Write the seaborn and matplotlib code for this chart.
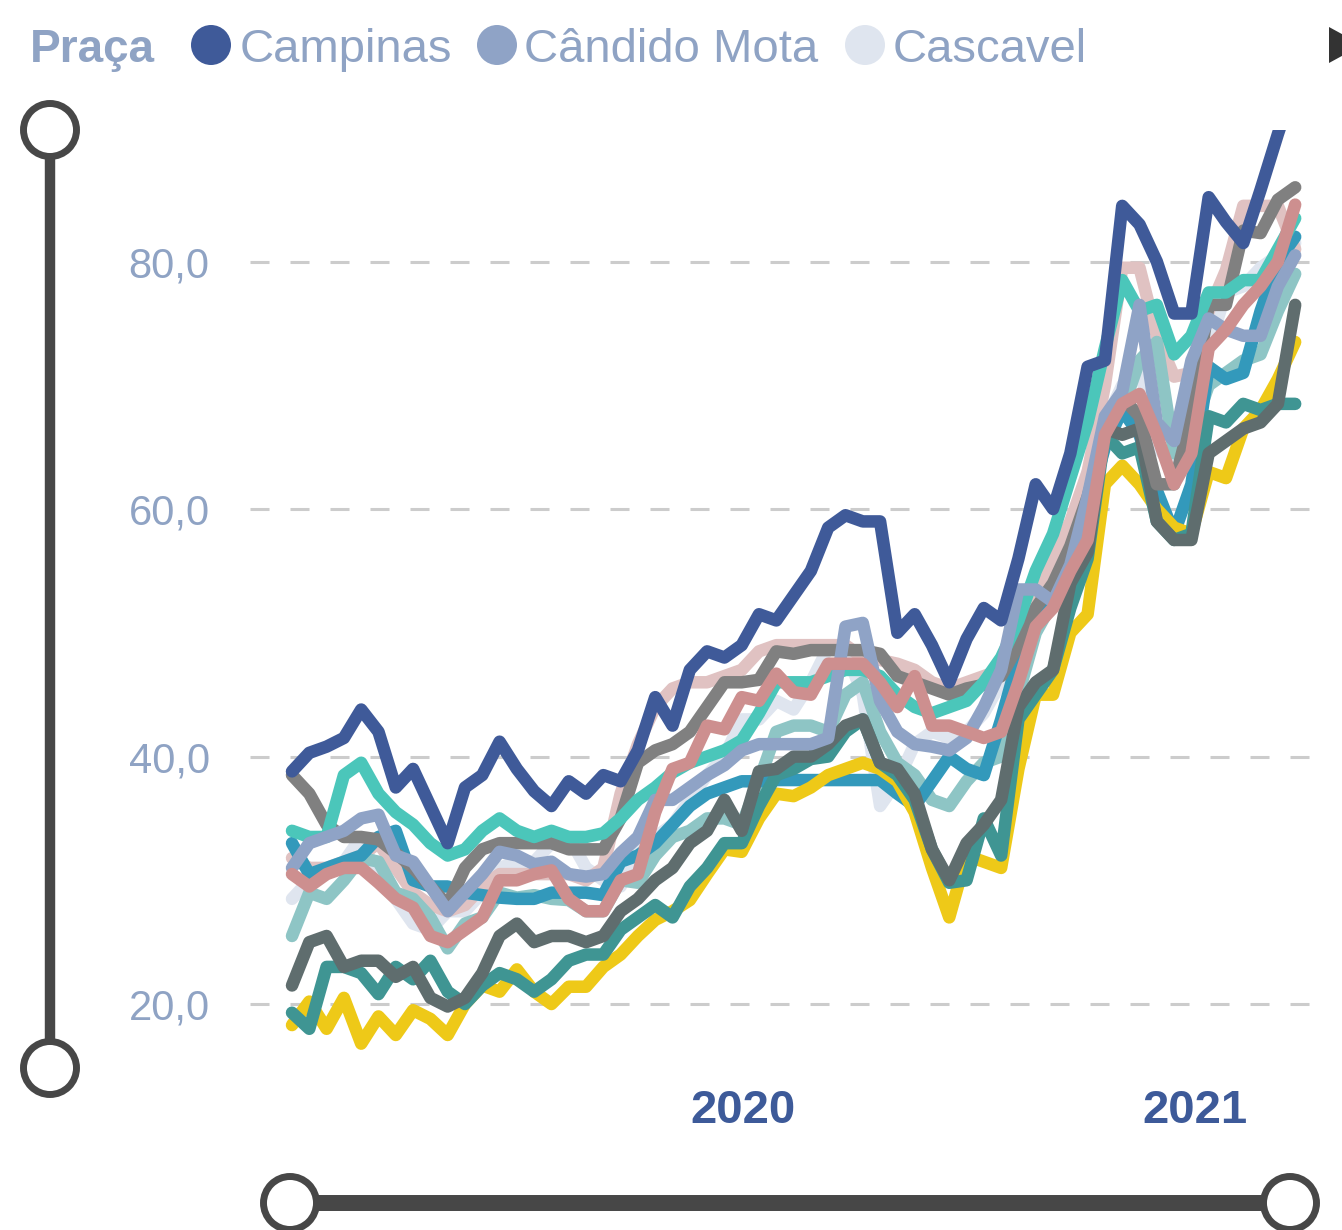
import matplotlib
matplotlib.use("Agg")
import matplotlib.pyplot as plt
import matplotlib.dates as mdates
from matplotlib.patches import Circle, Polygon
from matplotlib.ticker import FuncFormatter
import pandas as pd
import seaborn as sns

# datas quinzenais (jan/2019 a mar/2021)
datas = pd.date_range("2019-01-01", periods=59, freq="14D")

campinas = [38.8, 40.3, 40.8, 41.5, 43.8, 42.0, 37.5, 39.0, 36.0, 33.0,
            37.5, 38.5, 41.2, 39.0, 37.2, 36.0, 38.0, 37.0, 38.5, 38.0,
            40.5, 44.8, 42.5, 47.0, 48.5, 48.0, 49.0, 51.5, 51.0, 53.0,
            55.0, 58.5, 59.5, 59.0, 59.0, 50.0, 51.5, 49.0, 46.0, 49.5,
            52.0, 51.0, 56.0, 62.0, 60.0, 64.5, 71.5, 72.0, 84.5, 83.0,
            80.0, 75.8, 75.8, 85.2, 83.2, 81.5, 85.8, 90.3, 94.5]
candido_mota = [31.0, 33.0, 33.5, 34.0, 35.0, 35.3, 32.0, 31.5, 29.5, 27.5,
                29.0, 30.5, 32.3, 32.0, 31.3, 31.5, 30.5, 30.3, 30.5, 32.2,
                33.5, 36.5, 36.5, 37.5, 38.5, 39.3, 40.5, 41.0, 41.0, 41.0,
                41.0, 41.5, 50.5, 50.8, 44.5, 42.0, 41.0, 40.8, 40.5, 41.5,
                44.0, 47.0, 53.5, 53.5, 52.5, 55.5, 61.0, 67.5, 69.5, 76.5,
                67.0, 65.5, 72.0, 75.4, 74.5, 74.0, 74.0, 78.0, 80.5]
cascavel = [28.5, 30.0, 30.5, 31.5, 33.5, 30.0, 28.5, 26.5, 26.0, 27.5,
            27.5, 29.0, 31.0, 31.5, 31.5, 33.0, 33.5, 31.0, 30.0, 29.5,
            32.5, 33.5, 34.5, 36.5, 38.5, 40.0, 43.0, 43.0, 44.5, 43.8,
            46.0, 48.8, 48.5, 45.0, 36.0, 38.0, 41.0, 42.0, 41.5, 42.0,
            43.5, 46.0, 50.0, 53.0, 55.5, 58.0, 63.0, 67.0, 70.0, 71.5,
            65.0, 63.5, 67.0, 73.0, 77.5, 78.0, 79.5, 80.5, 81.5]
serie_cinza = [38.5, 37.0, 34.5, 33.5, 33.5, 33.3, 32.2, 31.0, 29.5, 28.0,
               31.0, 32.5, 33.0, 33.0, 33.0, 33.0, 32.5, 32.5, 32.5, 35.0,
               39.5, 40.5, 41.0, 42.0, 44.0, 46.0, 46.0, 46.2, 48.5, 48.3,
               48.6, 48.6, 48.6, 48.6, 48.3, 46.5, 46.0, 45.5, 45.0, 45.5,
               45.8, 46.5, 49.0, 52.0, 54.0, 57.0, 61.0, 66.0, 69.0, 67.5,
               62.0, 62.0, 67.5, 76.5, 76.5, 82.5, 82.3, 85.0, 86.0]
serie_turquesa = [34.0, 33.5, 33.5, 38.5, 39.5, 37.0, 35.5, 34.5, 33.0, 32.0,
                  32.5, 34.0, 35.0, 34.0, 33.5, 34.0, 33.5, 33.5, 33.8, 35.0,
                  36.5, 37.5, 38.7, 39.5, 40.0, 40.5, 41.3, 43.5, 46.0, 46.0,
                  46.0, 46.5, 47.0, 47.0, 46.5, 45.0, 44.0, 43.5, 44.0, 44.5,
                  46.0, 48.0, 51.0, 55.0, 58.0, 62.5, 67.0, 73.0, 78.5, 76.0,
                  76.5, 72.5, 74.0, 77.5, 77.5, 78.5, 78.5, 81.0, 83.5]
serie_rosa_claro = [31.8, 31.0, 31.0, 31.5, 32.0, 33.0, 31.0, 29.0, 28.0, 27.5,
                    28.0, 29.5, 30.5, 30.5, 30.5, 30.5, 30.5, 30.0, 31.0, 37.0,
                    41.0, 44.0, 45.5, 46.0, 46.0, 46.5, 47.0, 48.5, 49.0, 49.0,
                    49.0, 49.0, 49.0, 48.0, 47.8, 47.5, 47.0, 46.0, 45.5, 46.0,
                    46.5, 47.0, 49.0, 53.0, 56.0, 59.0, 63.0, 70.0, 79.5, 79.5,
                    74.0, 70.7, 71.0, 76.0, 79.3, 84.5, 84.5, 84.5, 81.0]
serie_azul = [33.0, 30.5, 31.0, 31.5, 32.0, 33.5, 34.0, 30.0, 29.5, 29.5,
              29.0, 28.8, 28.6, 28.5, 28.5, 29.0, 29.0, 29.0, 28.8, 31.5,
              32.0, 33.0, 34.5, 36.0, 37.0, 37.5, 38.0, 38.0, 38.1, 38.1,
              38.1, 38.1, 38.1, 38.1, 38.1, 37.0, 36.0, 38.0, 40.0, 39.0,
              38.5, 43.0, 48.0, 51.0, 53.5, 56.0, 60.0, 65.0, 68.0, 66.0,
              61.5, 58.0, 62.0, 71.5, 70.5, 71.0, 76.0, 80.0, 82.0]
serie_turquesa_clara = [25.5, 29.0, 28.5, 30.0, 31.8, 31.5, 29.0, 28.5, 27.0, 24.5,
                        26.5, 27.0, 29.0, 28.6, 28.8, 28.5, 28.4, 27.5, 27.5, 30.0,
                        29.8, 32.0, 33.5, 34.0, 35.0, 35.0, 34.5, 38.0, 42.0, 42.5,
                        42.5, 42.0, 45.0, 46.0, 42.0, 39.5, 38.5, 36.5, 36.0, 38.0,
                        39.5, 40.0, 45.0, 50.0, 52.5, 55.0, 60.0, 66.0, 68.0, 72.0,
                        73.5, 64.5, 66.0, 70.0, 71.0, 72.0, 72.5, 76.0, 79.0]
serie_salmao = [30.5, 29.5, 30.5, 31.0, 31.0, 29.8, 28.5, 27.8, 25.5, 25.0,
                26.0, 27.0, 30.0, 30.0, 30.5, 30.8, 28.5, 27.5, 27.5, 30.0,
                30.5, 35.5, 39.0, 39.5, 42.5, 42.2, 44.8, 44.5, 46.7, 45.2,
                45.0, 47.5, 47.5, 47.5, 46.0, 44.0, 46.5, 42.5, 42.5, 42.0,
                41.5, 42.0, 46.0, 50.5, 52.0, 55.0, 57.5, 66.0, 68.5, 69.3,
                66.0, 62.0, 64.5, 73.0, 74.5, 76.5, 78.0, 80.0, 84.6]
serie_petroleo = [19.3, 18.0, 23.0, 23.0, 22.5, 20.8, 23.0, 22.0, 23.5, 21.0,
                  20.0, 21.5, 22.5, 22.0, 21.0, 22.0, 23.5, 24.0, 24.0, 26.0,
                  27.0, 28.0, 27.0, 29.5, 31.0, 33.0, 33.0, 36.0, 38.5, 39.0,
                  39.8, 40.0, 42.0, 43.0, 39.5, 38.5, 36.5, 32.5, 29.8, 30.0,
                  35.0, 32.0, 43.0, 45.0, 47.0, 52.0, 56.0, 66.0, 64.5, 65.0,
                  59.0, 57.5, 58.0, 67.5, 67.0, 68.5, 68.0, 68.5, 68.5]
serie_cinza_escuro = [21.5, 25.0, 25.5, 23.0, 23.5, 23.5, 22.2, 23.0, 20.5, 19.8,
                      20.5, 22.5, 25.5, 26.5, 25.0, 25.5, 25.5, 25.0, 25.5, 27.5,
                      28.5, 30.0, 31.0, 33.0, 34.0, 36.5, 34.0, 38.8, 39.0, 40.0,
                      40.0, 41.0, 42.5, 43.0, 39.5, 39.0, 37.0, 32.5, 30.0, 33.0,
                      34.5, 36.5, 44.0, 46.0, 47.0, 54.0, 56.5, 66.5, 66.0, 66.5,
                      59.0, 57.5, 57.5, 64.5, 65.5, 66.5, 67.0, 68.5, 76.5]
serie_amarela = [18.3, 20.2, 18.0, 20.5, 16.8, 19.0, 17.5, 19.5, 18.8, 17.5,
                 20.0, 21.5, 21.0, 22.8, 21.0, 20.0, 21.4, 21.4, 23.0, 24.0,
                 25.5, 26.8, 27.5, 28.4, 30.5, 32.5, 32.3, 35.0, 37.0, 36.8,
                 37.5, 38.5, 39.0, 39.5, 39.0, 38.0, 35.5, 31.0, 27.0, 32.0,
                 31.5, 31.0, 39.0, 45.0, 45.0, 50.0, 51.5, 62.0, 63.5, 62.0,
                 60.0, 58.5, 58.0, 63.0, 62.5, 66.5, 68.0, 70.5, 73.5]

series = {
    "Campinas": campinas, "Cândido Mota": candido_mota, "Cascavel": cascavel,
    "Praça 4": serie_cinza, "Praça 5": serie_turquesa, "Praça 6": serie_rosa_claro,
    "Praça 7": serie_azul, "Praça 8": serie_turquesa_clara, "Praça 9": serie_salmao,
    "Praça 10": serie_petroleo, "Praça 11": serie_cinza_escuro, "Praça 12": serie_amarela,
}
cores = {
    "Campinas": "#3f5a99", "Cândido Mota": "#8fa3c6", "Cascavel": "#dfe5ef",
    "Praça 4": "#808080", "Praça 5": "#4bc6ba", "Praça 6": "#e0c2c2",
    "Praça 7": "#3399bb", "Praça 8": "#8ec5c5", "Praça 9": "#cd8f8f",
    "Praça 10": "#3f9593", "Praça 11": "#5f6d6e", "Praça 12": "#eec918",
}
# ordem de desenho (de baixo para cima)
ordem = ["Cascavel", "Praça 6", "Praça 8", "Praça 7", "Praça 12", "Praça 10",
         "Praça 11", "Praça 4", "Praça 5", "Cândido Mota", "Praça 9", "Campinas"]

df = pd.concat([pd.DataFrame({"Data": datas, "Preço": v, "Praça": k})
                for k, v in series.items()], ignore_index=True)

sns.set_theme(style="white")
plt.rcParams["font.family"] = ["Liberation Sans", "DejaVu Sans"]
plt.rcParams["lines.scale_dashes"] = False

W, H = 1342, 1230
fig = plt.figure(figsize=(W / 100, H / 100), dpi=100)
ax = fig.add_axes([250 / W, 1 - 1070 / H, 1060 / W, 940 / H])

sns.lineplot(data=df, x="Data", y="Preço", hue="Praça", hue_order=ordem,
             palette=cores, legend=False, errorbar=None, ax=ax)
for ln in ax.lines:
    ln.set_linewidth(9.0)
    ln.set_solid_joinstyle("round")
    ln.set_solid_capstyle("round")

ax.set_xlim(pd.Timestamp("2018-11-28"), pd.Timestamp("2021-04-04"))
ax.set_ylim(14.67, 90.63)
for s in ax.spines.values():
    s.set_visible(False)
ax.set_xlabel("")
ax.set_ylabel("")

ax.set_yticks([20, 40, 60, 80])
ax.yaxis.set_major_formatter(FuncFormatter(lambda v, p: f"{v:.1f}".replace(".", ",")))
ax.tick_params(axis="y", length=0, pad=29, labelsize=30, labelcolor="#8fa3c4")
ax.yaxis.grid(True, color="#cccccc", linewidth=2.2, linestyle=(0, (13.7, 15.1)))
ax.xaxis.grid(False)
ax.set_axisbelow(True)

ax.set_xticks([mdates.date2num(pd.Timestamp("2020-01-01")),
               mdates.date2num(pd.Timestamp("2021-01-01"))])
ax.set_xticklabels(["2020", "2021"], fontweight="bold")
ax.tick_params(axis="x", length=0, pad=14, labelsize=34, labelcolor="#3d5a99")

# camada de interface: legenda e controles deslizantes
ov = fig.add_axes([0, 0, 1, 1])
ov.set_xlim(0, W)
ov.set_ylim(H, 0)
ov.axis("off")
ov.patch.set_alpha(0)

escuro = "#474747"
ov.plot([50, 50], [130, 1068], color=escuro, lw=7.5, solid_capstyle="butt", zorder=2)
for cy in (130, 1068):
    ov.add_patch(Circle((50, cy), 26.5, facecolor="white", edgecolor=escuro,
                        lw=5, zorder=3))
ov.plot([290, 1290], [1203, 1203], color=escuro, lw=11.5, solid_capstyle="butt", zorder=2)
for cx in (290, 1290):
    ov.add_patch(Circle((cx, 1203), 26.5, facecolor="white", edgecolor=escuro,
                        lw=5, zorder=3))

cor_leg = "#8fa3c4"
ov.text(30, 62, "Praça", fontsize=33, fontweight="bold", color=cor_leg, va="baseline")
for nome, cx, tx in [("Campinas", 211, 240), ("Cândido Mota", 497, 524),
                     ("Cascavel", 865, 893)]:
    ov.add_patch(Circle((cx, 45), 20, facecolor=cores[nome], edgecolor="none"))
    ov.text(tx, 62, nome, fontsize=34, color=cor_leg, va="baseline")
ov.add_patch(Polygon([(1329, 27), (1362, 45), (1329, 63)], closed=True,
                     facecolor="#333333", edgecolor="none"))

fig.savefig("out.png", dpi=100)
